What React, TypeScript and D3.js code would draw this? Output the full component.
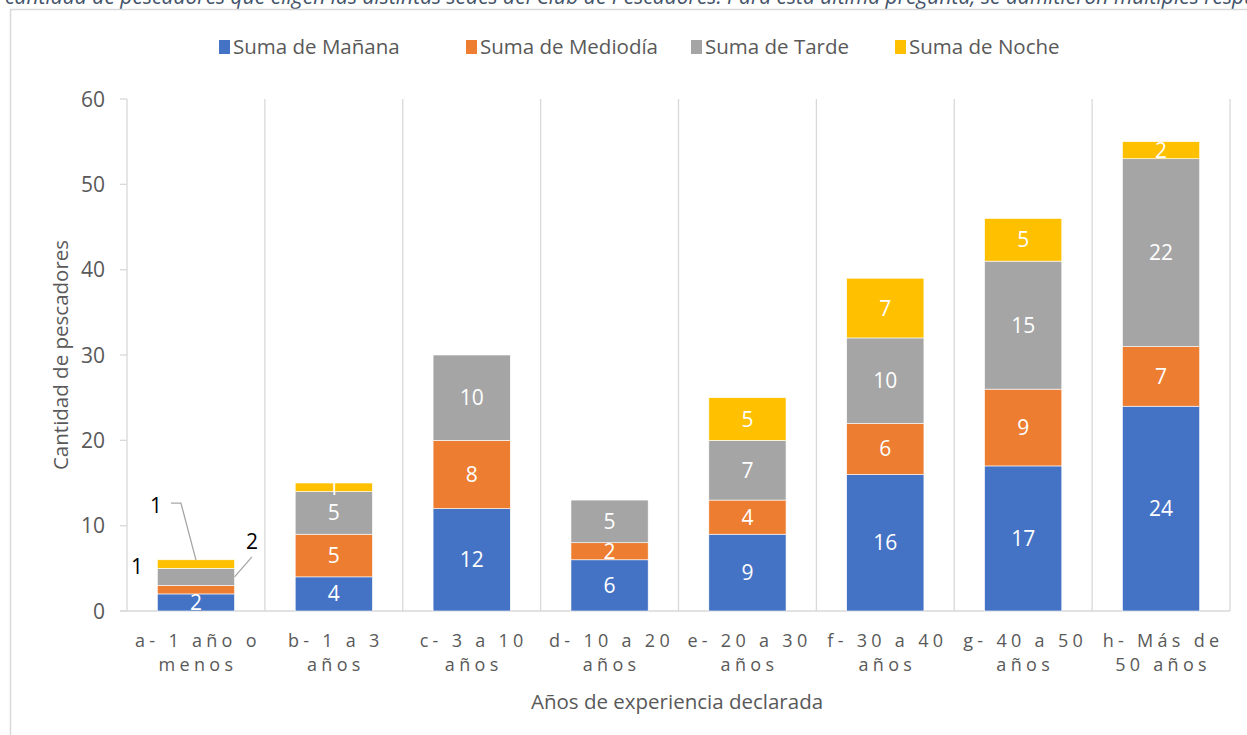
import React from 'react'
import * as d3 from 'd3'

// values
const categories = [
  'a- 1 año o|menos',
  'b- 1 a 3|años',
  'c- 3 a 10|años',
  'd- 10 a 20|años',
  'e- 20 a 30|años',
  'f- 30 a 40|años',
  'g- 40 a 50|años',
  'h- Más de|50 años'
]
const manana = [2, 4, 12, 6, 9, 16, 17, 24]
const mediodia = [1, 5, 8, 2, 4, 6, 9, 7]
const tarde = [2, 5, 10, 5, 7, 10, 15, 22]
const noche = [1, 1, 0, 0, 5, 7, 5, 2]

const seriesNames = ['Suma de Mañana', 'Suma de Mediodía', 'Suma de Tarde', 'Suma de Noche']
const seriesColors = ['#4472C4', '#ED7D31', '#A5A5A5', '#FFC000']
const yTicks = [0, 10, 20, 30, 40, 50, 60]

const W = 1247
const H = 735
const plot = { left: 127, right: 1230, top: 99, bottom: 611 }
const FONT = '"Open Sans", "Noto Sans", sans-serif'
const GRID = '#D9D9D9'
const TXT = '#595959'

// labels of the first bar were dragged out of the bar in the original
const callouts = [
  { cat: 0, series: 1, dx: -59, dy: -23, leader: false },
  { cat: 0, series: 2, dx: 56, dy: -35, leader: true },
  { cat: 0, series: 3, dx: -40, dy: -59, leader: true }
]

const App = () => {
  const rows = categories.map((c, i) => ({
    cat: c,
    s0: manana[i],
    s1: mediodia[i],
    s2: tarde[i],
    s3: noche[i]
  }))
  const stacked = d3.stack<any>().keys(['s0', 's1', 's2', 's3'])(rows)

  const x = d3.scaleBand().domain(categories).range([plot.left, plot.right]).paddingInner(0.44).paddingOuter(0.22)
  const y = d3.scaleLinear().domain([0, 60]).range([plot.bottom, plot.top])
  const step = x.step()

  const calloutFor = (ci, si) => callouts.find(c => c.cat === ci && c.series === si)

  return (
    <svg width={W} height={H} style={{ display: 'block', position: 'absolute', left: 0, top: 0, background: '#fff' }}>
      <text x={5} y={4} fontFamily={FONT} fontStyle="italic" fontSize={21} fill="#44546A">
        cantidad de pescadores que eligen las distintas sedes del Club de Pescadores. Para esta última pregunta, se admitieron múltiples respuestas.
      </text>
      {/* chart frame */}
      <path d={`M10.5,${H} V9.5 H${W}`} fill="none" stroke={GRID} strokeWidth={1.5} />

      {/* legend */}
      {seriesNames.map((name, i) => {
        const lx = [219, 466, 691, 895][i]
        return (
          <g key={name}>
            <rect x={lx} y={40} width={11} height={14} fill={seriesColors[i]} />
            <text x={lx + 14} y={54} fontFamily={FONT} fontSize={20.5} fill={TXT}>
              {name}
            </text>
          </g>
        )
      })}

      {/* vertical gridlines between categories */}
      {d3.range(categories.length + 1).map(i => (
        <line
          key={i}
          x1={plot.left + i * step}
          x2={plot.left + i * step}
          y1={plot.top}
          y2={plot.bottom}
          stroke={GRID}
          strokeWidth={1.3}
        />
      ))}
      {/* y ticks */}
      {yTicks.map(t => (
        <g key={t}>
          <line x1={plot.left - 7} x2={plot.left} y1={y(t)} y2={y(t)} stroke={GRID} strokeWidth={1.3} />
          <text x={105} y={y(t)} dy="0.36em" textAnchor="end" fontFamily={FONT} fontSize={21} fill={TXT}>
            {t}
          </text>
        </g>
      ))}
      <line x1={plot.left - 7} x2={plot.right} y1={plot.bottom} y2={plot.bottom} stroke={GRID} strokeWidth={1.3} />

      {/* bars */}
      {stacked.map((layer, si) => (
        <g key={si}>
          {layer.map((d, ci) => {
            const v = d[1] - d[0]
            if (!v) return null
            return (
              <rect
                key={ci}
                x={x(categories[ci])}
                y={y(d[1])}
                width={x.bandwidth()}
                height={y(d[0]) - y(d[1])}
                fill={seriesColors[si]}
                stroke="#fff"
                strokeWidth={0.6}
              />
            )
          })}
        </g>
      ))}

      {/* data labels */}
      {stacked.map((layer, si) =>
        layer.map((d, ci) => {
          const v = d[1] - d[0]
          if (!v) return null
          const cx = x(categories[ci]) + x.bandwidth() / 2
          const cy = (y(d[0]) + y(d[1])) / 2
          const co = calloutFor(ci, si)
          if (co) {
            const lx = cx + co.dx
            const ly = cy + co.dy
            let leader = null
            if (co.leader && si === 2) {
              leader = (
                <polyline
                  points={`${lx},${ly + 15} ${x(categories[ci]) + x.bandwidth()},${cy}`}
                  fill="none"
                  stroke="#A6A6A6"
                  strokeWidth={1.3}
                />
              )
            } else if (co.leader) {
              leader = (
                <polyline
                  points={`${lx + 15},${ly - 2} ${lx + 25},${ly - 2} ${cx},${y(d[1])}`}
                  fill="none"
                  stroke="#A6A6A6"
                  strokeWidth={1.3}
                />
              )
            }
            return (
              <g key={`${si}-${ci}`}>
                {leader}
                <text x={lx} y={ly} dy="0.36em" textAnchor="middle" fontFamily={FONT} fontSize={21} fill="#000">
                  {v}
                </text>
              </g>
            )
          }
          return (
            <text
              key={`${si}-${ci}`}
              x={cx}
              y={cy}
              dy="0.36em"
              textAnchor="middle"
              fontFamily={FONT}
              fontSize={21}
              fill="#fff"
            >
              {v}
            </text>
          )
        })
      )}

      {/* category labels */}
      {categories.map(c => {
        const lines = c.split('|')
        const cx = x(c) + x.bandwidth() / 2
        return (
          <text key={c} textAnchor="middle" fontFamily={FONT} fontSize={18} fill={TXT} letterSpacing={4.3}>
            {lines.map((ln, i) => (
              <tspan key={i} x={cx + 2} y={647 + i * 24}>
                {ln}
              </tspan>
            ))}
          </text>
        )
      })}

      {/* axis titles */}
      <text x={677} y={709} textAnchor="middle" fontFamily={FONT} fontSize={20.5} fill={TXT}>
        Años de experiencia declarada
      </text>
      <text
        transform={`translate(68,${355}) rotate(-90)`}
        textAnchor="middle"
        fontFamily={FONT}
        fontSize={20.5}
        fill={TXT}
      >
        Cantidad de pescadores
      </text>
    </svg>
  )
}

export default App
